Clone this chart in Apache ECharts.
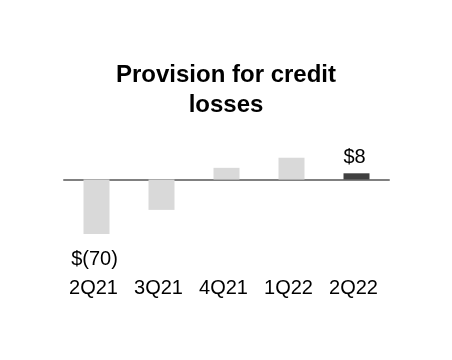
<!DOCTYPE html>
<html>
<head>
<meta charset="utf-8">
<script src="https://cdn.jsdelivr.net/npm/echarts@6/dist/echarts.min.js"></script>
<style>html,body{margin:0;padding:0;background:#fff;}#c{width:452px;height:360px;}</style>
</head>
<body>
<div id="c"></div>
<script>
var categories = ['2Q21', '3Q21', '4Q21', '1Q22', '2Q22'];
var values = [-70, -39, 15, 28, 8];
var valueLabels = ['$(70)', '', '', '', '$8'];
var barColors = ['#d9d9d9', '#d9d9d9', '#d9d9d9', '#d9d9d9', '#404040'];
var titleText = 'Provision for credit\nlosses';

var chart = echarts.init(document.getElementById('c'), null, {renderer: 'canvas'});
var font = 'Arial, "Liberation Sans", sans-serif';
chart.setOption({
  animation: false,
  title: {
    text: titleText,
    left: 226, top: 60, textAlign: 'center', padding: 0,
    textStyle: {fontFamily: font, fontSize: 24, fontWeight: 'bold', color: '#000', lineHeight: 30}
  },
  grid: {left: 64, right: 63, top: 132.8, height: 124.6, containLabel: false, outerBoundsMode: 'none'},
  xAxis: {
    type: 'category', data: categories,
    axisLine: {onZero: true, lineStyle: {color: '#808080', width: 2}},
    axisTick: {show: false},
    axisLabel: {margin: 21, padding: [0, 6, 0, 0], fontFamily: font, fontSize: 20, color: '#000'}
  },
  yAxis: {
    type: 'value', min: -100, max: 60, show: false, splitLine: {show: false}
  },
  series: [{
    type: 'bar', barWidth: 26,
    data: values.map(function (v, i) {
      var lbl = valueLabels[i];
      return {
        value: v,
        itemStyle: {color: barColors[i]},
        label: {
          show: lbl !== '',
          position: v < 0 ? 'bottom' : 'top',
          distance: v < 0 ? 15 : 6,
          padding: [0, 4, 0, 0],
          formatter: lbl,
          fontFamily: font, fontSize: 20, color: '#000'
        }
      };
    })
  }]
});
</script>
</body>
</html>
